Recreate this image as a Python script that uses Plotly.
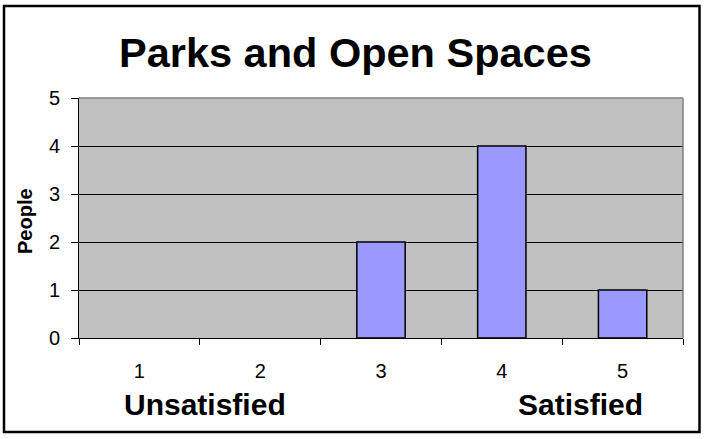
import plotly.graph_objects as go

categories = ["1", "2", "3", "4", "5"]
people = [0, 0, 2, 4, 1]
title_text = "Parks and Open Spaces"
y_title = "People"
low_label = "Unsatisfied"
high_label = "Satisfied"

FONT = "Liberation Sans, Arial, sans-serif"
W, H = 704, 439
L, R, T, B = 79, 21, 98, 101
pw, ph = W - L - R, H - T - B

def px(x):
    return (x - L) / pw

def py(y):
    return (H - B - y) / ph

fig = go.Figure(go.Bar(
    x=categories, y=people,
    marker=dict(color="#9999FF",
                line=dict(color="black", width=[0 if v == 0 else 1.5 for v in people])),
))

fig.update_layout(
    width=W, height=H,
    margin=dict(l=L, r=R, t=T, b=B, pad=0),
    paper_bgcolor="white", plot_bgcolor="#C0C0C0",
    bargap=0.6, showlegend=False,
    font=dict(family=FONT, color="black", size=20),
    xaxis=dict(type="category", tickson="boundaries", ticks="outside", ticklen=6,
               tickcolor="black", tickwidth=1, showline=True, linecolor="black",
               linewidth=1, showgrid=False, ticklabelstandoff=15,
               tickfont=dict(size=20)),
    yaxis=dict(range=[0, 5], dtick=1, ticks="outside", ticklen=7, tickcolor="black",
               showline=True, linecolor="black", linewidth=1, showgrid=True,
               gridcolor="black", gridwidth=1, zeroline=False, ticklabelstandoff=7,
               tickfont=dict(size=20)),
    shapes=[
        dict(type="line", xref="paper", yref="paper", x0=0, x1=1, y0=1, y1=1,
             line=dict(color="#808080", width=1.5)),
        dict(type="line", xref="paper", yref="paper", x0=1, x1=1, y0=0, y1=1,
             line=dict(color="#808080", width=1.5)),
        dict(type="rect", xref="paper", yref="paper",
             x0=px(4), x1=px(699.5), y0=py(432), y1=py(6),
             line=dict(color="black", width=2.5)),
    ],
    annotations=[
        dict(text=f"<b>{title_text}</b>", xref="paper", yref="paper",
             x=px(355), y=py(52), xanchor="center", yanchor="middle",
             showarrow=False, font=dict(size=41.5, family=FONT)),
        dict(text=f"<b>{y_title}</b>", xref="paper", yref="paper",
             x=px(25), y=py(221), xanchor="center", yanchor="middle",
             textangle=-90, showarrow=False, font=dict(size=20, family=FONT)),
        dict(text=f"<b>{low_label}</b>", xref="paper", yref="paper",
             x=px(205), y=py(404), xanchor="center", yanchor="middle",
             showarrow=False, font=dict(size=30, family=FONT)),
        dict(text=f"<b>{high_label}</b>", xref="paper", yref="paper",
             x=px(580), y=py(404), xanchor="center", yanchor="middle",
             showarrow=False, font=dict(size=30, family=FONT)),
    ],
)

fig.write_html("out.html", config={"displayModeBar": False},
               post_script="document.body.style.margin='0';document.body.style.padding='0';document.body.style.overflow='hidden';")
